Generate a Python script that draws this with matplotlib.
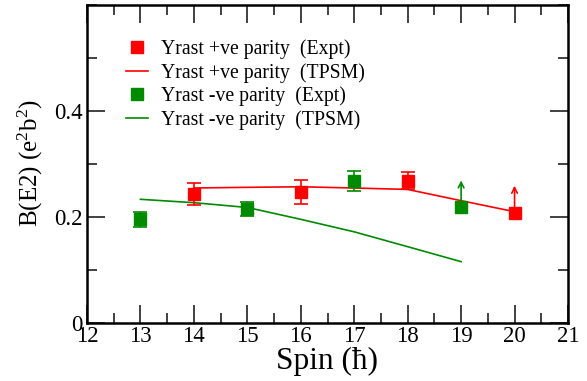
import matplotlib
matplotlib.use("Agg")
import matplotlib.pyplot as plt
from matplotlib.ticker import MultipleLocator, FixedLocator

# ---- data ----
pos_expt_spin = [14, 16, 18, 20]
pos_expt_be2 = [0.243, 0.247, 0.268, 0.207]
pos_expt_err = [0.021, 0.023, 0.016, 0.0]
pos_lower_limit_spin = [20]
pos_lower_limit_from = [0.207]
pos_lower_limit_to = [0.259]

neg_expt_spin = [13, 15, 17, 19]
neg_expt_be2 = [0.196, 0.2145, 0.268, 0.2195]
neg_expt_err = [0.014, 0.013, 0.018, 0.0]
neg_lower_limit_spin = [19]
neg_lower_limit_from = [0.2195]
neg_lower_limit_to = [0.269]

pos_tpsm_spin = [14, 15, 16, 17, 18, 19, 20]
pos_tpsm_be2 = [0.2547, 0.2560, 0.2570, 0.2547, 0.2520, 0.2308, 0.2100]

neg_tpsm_spin = [13, 14, 15, 16, 17, 18, 19]
neg_tpsm_be2 = [0.2334, 0.2270, 0.2180, 0.1956, 0.1720, 0.1440, 0.1157]

labels = ["Yrast +ve parity  (Expt)", "Yrast +ve parity  (TPSM)",
          "Yrast -ve parity  (Expt)", "Yrast -ve parity  (TPSM)"]
x_ticks = list(range(12, 22))
y_ticks = [0, 0.2, 0.4]
y_tick_labels = ["0", "0.2", "0.4"]

RED = "#ff0000"
GREEN = "#008a00"

plt.rcParams['font.family'] = ['Liberation Serif', 'DejaVu Serif']
plt.rcParams['mathtext.fontset'] = 'custom'
plt.rcParams['mathtext.rm'] = 'Liberation Serif'
plt.rcParams['mathtext.it'] = 'Liberation Serif:italic'

fig = plt.figure(figsize=(5.87, 3.81), dpi=100)
ax = fig.add_axes([87/587, 1 - 323/381, (568-87)/587, (323-5)/381])

# TPSM lines
l_pos, = ax.plot(pos_tpsm_spin, pos_tpsm_be2, color=RED, lw=1.2, zorder=2)
l_neg, = ax.plot(neg_tpsm_spin, neg_tpsm_be2, color=GREEN, lw=1.2, zorder=2)

# Expt points
def expt(spin, val, err, color):
    xs = [s for s, e in zip(spin, err) if e > 0]
    ys = [v for v, e in zip(val, err) if e > 0]
    es = [e for e in err if e > 0]
    ax.errorbar(xs, ys, yerr=es, fmt='none', ecolor=color, elinewidth=1.2,
                capsize=5, capthick=1.2, zorder=3)
    h, = ax.plot(spin, val, 's', color=color, ms=9, mec=color, zorder=4,
                 linestyle='none')
    return h

h_pos = expt(pos_expt_spin, pos_expt_be2, pos_expt_err, RED)
h_neg = expt(neg_expt_spin, neg_expt_be2, neg_expt_err, GREEN)

for s, y0, y1 in zip(pos_lower_limit_spin, pos_lower_limit_from, pos_lower_limit_to):
    ax.annotate("", xy=(s, y1), xytext=(s, y0),
                arrowprops=dict(arrowstyle='->', color=RED, lw=1.2,
                                shrinkA=0, shrinkB=0, mutation_scale=10))
for s, y0, y1 in zip(neg_lower_limit_spin, neg_lower_limit_from, neg_lower_limit_to):
    ax.annotate("", xy=(s, y1), xytext=(s, y0),
                arrowprops=dict(arrowstyle='->', color=GREEN, lw=1.2,
                                shrinkA=0, shrinkB=0, mutation_scale=10))

ax.set_xlim(12, 21)
ax.set_ylim(0, 0.6)
ax.xaxis.set_major_locator(FixedLocator(x_ticks))
ax.xaxis.set_minor_locator(MultipleLocator(0.5))
ax.yaxis.set_major_locator(FixedLocator(y_ticks))
ax.set_yticklabels(y_tick_labels)
ax.yaxis.set_minor_locator(MultipleLocator(0.1))

ax.tick_params(which='both', direction='in', top=True, right=True,
               labelsize=16.5, width=1.3, color='#333333', pad=3)
ax.tick_params(which='major', length=13)
ax.tick_params(which='minor', length=7)
ax.tick_params(axis='x', pad=2)
for sp in ax.spines.values():
    sp.set_linewidth(1.8)

ax.set_xlabel("Spin (ħ)", fontsize=22.5, labelpad=0)
ax.set_ylabel(r"B(E2) (e$^{2}$b$^{2}$)", fontsize=18)
ax.yaxis.set_label_coords(-0.087, 0.503)

# Legend
h_pos_leg, = ax.plot([], [], 's', color=RED, ms=8)
h_neg_leg, = ax.plot([], [], 's', color=GREEN, ms=8)
ax.legend([h_pos_leg, l_pos, h_neg_leg, l_neg], labels, loc='upper left',
          bbox_to_anchor=(0.081, 0.893), frameon=False, fontsize=14.2,
          borderpad=0, borderaxespad=0, handlelength=1.12, handletextpad=0.66,
          labelspacing=0.205)

fig.savefig("out.png", dpi=100)
